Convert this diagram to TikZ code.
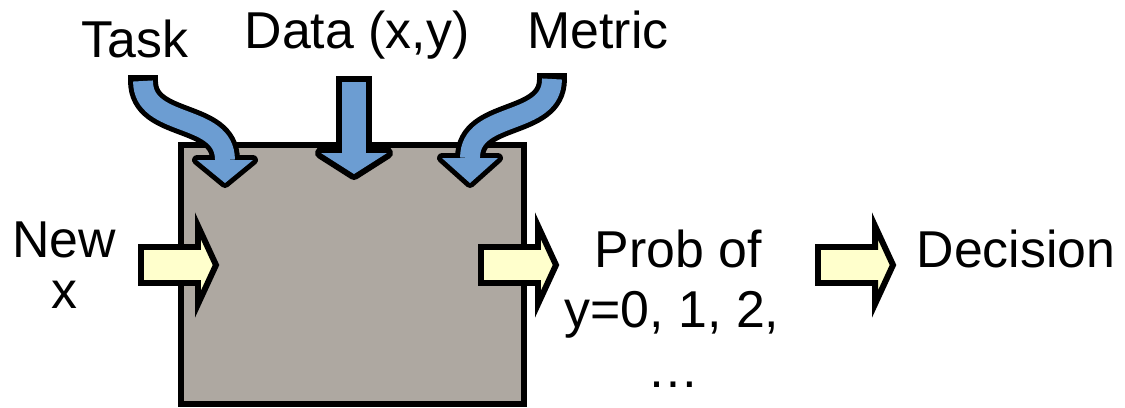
\documentclass[tikz,border=0pt]{standalone}
\usepackage{fontspec}
\setmainfont{Liberation Sans}
\usetikzlibrary{positioning}
\definecolor{boxGrey}{HTML}{AEA8A1}
\definecolor{arrowBlue}{HTML}{6C9DD2}
\definecolor{arrowYellow}{HTML}{FFFFCC}

\begin{document}
\begin{tikzpicture}[x=0.02cm, y=-0.02cm,
    lbl/.style={font=\fontsize{29.5}{34}\selectfont, anchor=base, inner sep=0pt},
    yellowarrow/.style={draw=black, fill=arrowYellow, line width=3.4pt, line join=miter},
    headout/.style={fill=black, draw=black, line width=#1, line join=round}]
  \useasboundingbox (0,0) rectangle (1125,407);

  % Model box
  \node[draw, fill=boxGrey, line width=3.4pt, inner sep=0pt,
        minimum width=6.86cm, minimum height=5.18cm] (model) at (352.5,274.5) {};

  % Yellow block arrows
  \foreach \dx in {0,340,677} {
    \draw[yellowarrow] ({141+\dx},247) -- ({198+\dx},247) -- ({198+\dx},226)
      -- ({216+\dx},265) -- ({198+\dx},304) -- ({198+\dx},283) -- ({141+\dx},283) -- cycle;
  }

  % Data arrow (straight)
  \draw[black, line width=21pt] (354,76) -- (354,153);
  \filldraw[headout=6.8pt] (321,153) -- (387,153) -- (354,174) -- cycle;
  \draw[arrowBlue, line width=14.2pt] (354,82) -- (354,153);
  \fill[arrowBlue] (321,153) -- (387,153) -- (354,174) -- cycle;

  % Task arrow (curved)
  \draw[black, line width=17pt] (143,75) -- (143,81) .. controls (143,129) and (225,112) .. (225,160);
  \filldraw[headout=5.7pt] (197,160) -- (253,160) -- (225,183) -- cycle;
  \draw[arrowBlue, line width=11.3pt] (143,81) .. controls (143,129) and (225,112) .. (225,160);
  \fill[arrowBlue] (197,160) -- (253,160) -- (225,183) -- cycle;

  % Metric arrow (curved)
  \draw[black, line width=17pt] (552,73) -- (552,79) .. controls (552,127) and (470,110) .. (470,158);
  \filldraw[headout=5.7pt] (442,158) -- (498,158) -- (470,183) -- cycle;
  \draw[arrowBlue, line width=11.3pt] (552,79) .. controls (552,127) and (470,110) .. (470,158);
  \fill[arrowBlue] (442,158) -- (498,158) -- (470,183) -- cycle;

  % Labels
  \node[lbl] (task) at (135,57) {Task};
  \node[lbl] (data) at (357,48) {Data (x,y)};
  \node[lbl] (metric) at (598,48) {Metric};
  \node[lbl] (new) at (64,257) {New};
  \node[lbl] (newx) at (64,308) {x};
  \node[lbl] (prob) at (678,267) {Prob of};
  \node[lbl] (probvals) at (672,327) {y=0, 1, 2,};
  \node[lbl] (probdots) at (673,387) {…};
  \node[lbl] (decision) at (1016,267) {Decision};
\end{tikzpicture}
\end{document}
